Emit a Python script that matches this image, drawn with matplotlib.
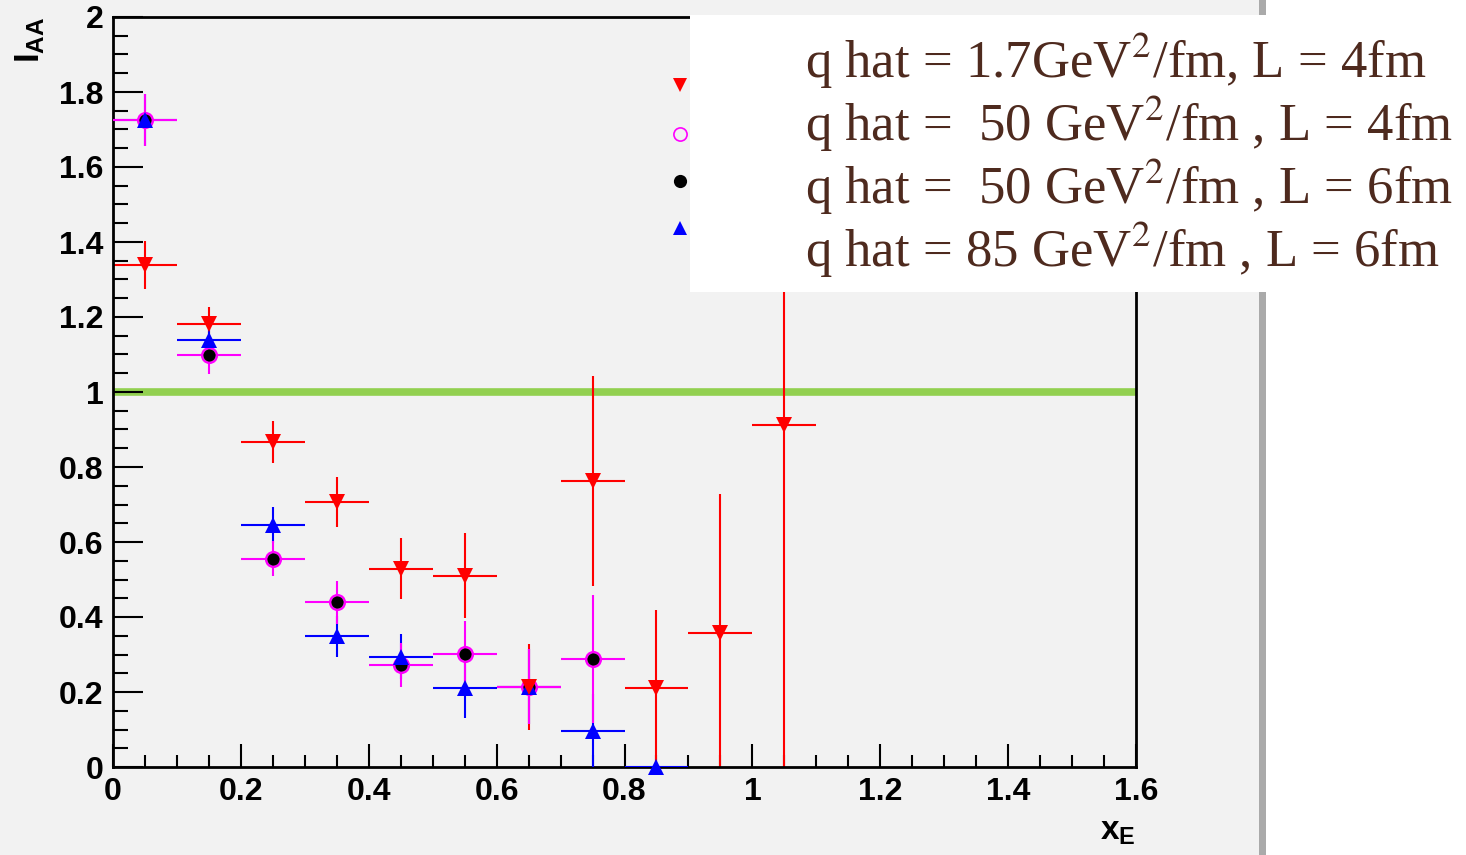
import matplotlib
matplotlib.use("Agg")
import matplotlib.pyplot as plt
from matplotlib.patches import Rectangle
from matplotlib.ticker import MultipleLocator, FixedFormatter, FixedLocator
import numpy as np

plt.rcParams['mathtext.fontset'] = 'custom'
plt.rcParams['mathtext.rm'] = 'Liberation Sans:bold'
plt.rcParams['mathtext.bf'] = 'Liberation Sans:bold'
plt.rcParams['mathtext.it'] = 'Liberation Sans:bold'

# ---- data ----
x_red = [0.05, 0.15, 0.25, 0.35, 0.45, 0.55, 0.65, 0.75, 0.85, 0.95, 1.05]
y_red = [1.339, 1.181, 0.867, 0.707, 0.529, 0.510, 0.214, 0.763, 0.210, 0.357, 0.912]
e_red = [0.065, 0.045, 0.055, 0.066, 0.081, 0.113, 0.115, 0.28, 0.21, 0.37, 0.95]

x_mag = [0.05, 0.15, 0.25, 0.35, 0.45, 0.55, 0.65, 0.75]
y_mag = [1.725, 1.099, 0.556, 0.439, 0.272, 0.301, 0.214, 0.288]
e_mag = [0.07, 0.05, 0.046, 0.057, 0.058, 0.088, 0.10, 0.17]

x_blk = [0.05, 0.15, 0.25, 0.35, 0.45, 0.55, 0.65, 0.75]
y_blk = [1.725, 1.099, 0.556, 0.439, 0.272, 0.301, 0.214, 0.288]

x_blu = [0.05, 0.15, 0.25, 0.35, 0.45, 0.55, 0.65, 0.75, 0.85]
y_blu = [1.725, 1.140, 0.646, 0.349, 0.294, 0.210, 0.214, 0.096, 0.0]
e_blu = [0.07, 0.04, 0.048, 0.055, 0.06, 0.08, 0.10, 0.10, 0.0]

bin_half = 0.05
ref_level = 1.0

legend_labels = [
    "q hat = 1.7GeV$^{2}$/fm, L = 4fm",
    "q hat =  50 GeV$^{2}$/fm , L = 4fm",
    "q hat =  50 GeV$^{2}$/fm , L = 6fm",
    "q hat = 85 GeV$^{2}$/fm , L = 6fm",
]
xticks = [0, 0.2, 0.4, 0.6, 0.8, 1.0, 1.2, 1.4, 1.6]
xticklabels = ["0", "0.2", "0.4", "0.6", "0.8", "1", "1.2", "1.4", "1.6"]
yticks = [0, 0.2, 0.4, 0.6, 0.8, 1.0, 1.2, 1.4, 1.6, 1.8, 2.0]
yticklabels = ["0", "0.2", "0.4", "0.6", "0.8", "1", "1.2", "1.4", "1.6", "1.8", "2"]

W, H = 1466, 855
BG = '#f2f2f2'
fig = plt.figure(figsize=(W / 100, H / 100), dpi=100, facecolor=BG)
ax = fig.add_axes([113 / W, (H - 767) / H, (1136 - 113) / W, (767 - 17) / H])
ax.set_facecolor(BG)
ax.set_xlim(0, 1.6)
ax.set_ylim(0, 2)

# reference line
ax.axhline(ref_level, color='#92d050', lw=5.5, zorder=1)

lw = 1.5
def eb(x, y, e, color, z):
    xe = [bin_half] * len(x)
    ax.errorbar(x, y, yerr=e, xerr=xe, fmt='none', ecolor=color, elinewidth=lw,
                capsize=0, zorder=z)

eb(x_red, y_red, e_red, '#ff0000', 2)
eb(x_blu, y_blu, e_blu, '#0000ff', 3)
eb(x_mag, y_mag, e_mag, '#ff00ff', 4)

ax.plot(x_mag, y_mag, 'o', ms=10.5, mfc='none', mec='#ff00ff', mew=1.8, zorder=5, clip_on=False)
ax.plot(x_blk, y_blk, 'o', ms=8.8, mfc='black', mec='black', mew=0, zorder=6, clip_on=False)
ax.plot(x_blu, y_blu, '^', ms=11.5, color='#0000ff', mew=0, zorder=7, clip_on=False)
ax.plot(x_red, y_red, 'v', ms=11.5, color='#ff0000', mew=0, zorder=8, clip_on=False)

# ticks
ax.xaxis.set_major_locator(FixedLocator(xticks))
ax.xaxis.set_major_formatter(FixedFormatter(xticklabels))
ax.yaxis.set_major_locator(FixedLocator(yticks))
ax.yaxis.set_major_formatter(FixedFormatter(yticklabels))
ax.xaxis.set_minor_locator(MultipleLocator(0.05))
ax.yaxis.set_minor_locator(MultipleLocator(0.05))
ax.tick_params(axis='both', which='both', direction='in', top=False, right=False,
               width=1.5, color='black')
ax.tick_params(axis='x', which='major', length=16.5, pad=7)
ax.tick_params(axis='x', which='minor', length=8.5)
ax.tick_params(axis='y', which='major', length=21.5, pad=7)
ax.tick_params(axis='y', which='minor', length=11)
for lab in ax.get_xticklabels() + ax.get_yticklabels():
    lab.set_fontfamily('Liberation Sans')
    lab.set_fontweight('bold')
    lab.set_fontsize(23)
for s in ax.spines.values():
    s.set_linewidth(2)
    s.set_color('black')

# overlay in pixel coords
ov = fig.add_axes([0, 0, 1, 1], zorder=10)
ov.set_xlim(0, W)
ov.set_ylim(H, 0)
ov.axis('off')
ov.patch.set_alpha(0)

# right white margin and gray bar
ov.add_patch(Rectangle((1266, 0), W - 1266, H, facecolor='white', edgecolor='none', zorder=1))
ov.add_patch(Rectangle((1259, 0), 7, H, facecolor='#aaaaaa', edgecolor='none', zorder=1))

# legend box
ov.add_patch(Rectangle((690, 15), W - 690, 292 - 15, facecolor='white', edgecolor='none', zorder=2))
leg_y = [85, 134, 181, 228]
ov.plot([680], [leg_y[0]], 'v', ms=10.5, color='#ff0000', mew=0, zorder=3)
ov.plot([680], [leg_y[1]], 'o', ms=9.5, mfc='none', mec='#ff00ff', mew=1.2, zorder=3)
ov.plot([680], [leg_y[2]], 'o', ms=9.5, color='black', mew=0, zorder=3)
ov.plot([680], [leg_y[3]], '^', ms=10.5, color='#0000ff', mew=0, zorder=3)

txt_color = '#4e2a1e'
base_y = [78, 141, 204, 267]
for lbl, by in zip(legend_labels, base_y):
    ov.text(805, by, lbl, fontsize=38, family='Liberation Serif', color=txt_color,
            ha='left', va='baseline', math_fontfamily='stix', zorder=4)

# axis titles
ov.text(1136, 840, r"$\mathbf{x_{E}}$", fontsize=24, ha='right', va='baseline', color='black')
ov.text(13, 17, r"$\mathbf{I_{AA}}$", fontsize=25, ha='right', va='top', rotation=90,
        rotation_mode='anchor', color='black')

fig.savefig('out.png', dpi=100, facecolor=BG)
